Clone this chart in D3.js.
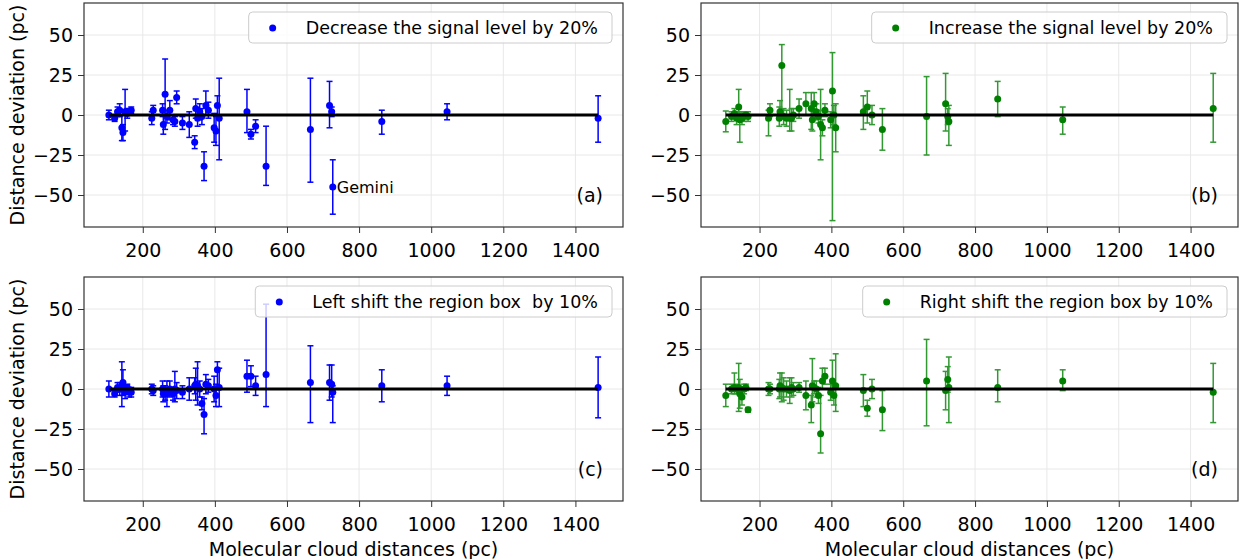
<!DOCTYPE html>
<html>
<head>
<meta charset="utf-8">
<script src="https://cdn.jsdelivr.net/npm/d3@7"></script>
<style>
body { margin: 0; background: #fff; }
text { font-family: "DejaVu Sans", sans-serif; }
</style>
</head>
<body>
<svg id="chart" width="1241" height="559"></svg>
<script>
// molecular cloud distances (pc), shared by all four panels
var distances = [106,122,130,136,142,145,151,157,162,168,225,229,255,257,262,267,275,284,289,294,
	310,329,344,347,352,358,364,370,375,382,398,403,407,412,489,500,513,542,665,718,
	724,727,863,1044,1463];

// [deviation, error below, error above]
var signalDown = [[0,3,3],[-2,2,2],[2,3,3],[3,4,4],[-8,8,8],[-11,5,5],[2,12,14],[1,3,3],[2,2,2],[3,2,2],
	[-2,4,4],[3,3,3],[3,4,4],[-6,6,6],[13,22,22],[-1,4,4],[3,6,6],[-3,3,3],[-4,3,3],[11,4,4],
	[-5,4,4],[-6,8,8],[-17,4,4],[4,6,6],[-2,5,5],[2,5,5],[-1,5,5],[-32,9,9],[6,6,9],[3,5,5],
	[-8,9,9],[-10,9,9],[6,6,6],[-2,26,25],[2,13,14],[-12,3,3],[-7,4,4],[-32,12,25],[-9,33,32],[6,14,15],
	[2,3,3],[-45,17,17],[-4,8,7],[2,5,5],[-2,15,14]];

var signalUp = [[-4,6.5,6.5],[-1,3,3],[1,3,3],[-2,4,4],[5,4,11],[-3,14,5],[-2,4,4],[-1,3,3],[0,2,2],[-1,3,3],
	[-2,11,5],[3,4,4],[-2,5,7],[2,4,7],[31,32,13],[-1,5,5],[-2,5,5],[-2,8,18],[-2,8,6],[0,4,4],
	[4,6,6],[7,7,7],[4,13,10],[-3,7,7],[7,9,7],[2,5,5],[-1,4,4],[-6,22,22],[-8,5,5],[3,4,4],
	[-3,5,5],[15,81,24],[0,6,6],[-8,15,15],[2,11,10],[5,10,10],[0,6,6],[-9,13,13],[-1,24,25],[7,17,19],
	[-1,5,5],[-4,15,10],[10,11,11],[-3,9,8],[4,21,22]];

var leftShift = [[0,5,5],[-3,2,2],[1,3,3],[0,4,4],[2,13,15],[4,8,8],[-2,4,4],[1,2,2],[-2,3,3],[-2,3,3],
	[0,3,3],[-1,3,3],[0,5,5],[-3,5,5],[-3,4,5],[-3,8,8],[0,5,5],[-3,4,4],[0,8,11],[-1,5,5],
	[-2,4,4],[0,7,7],[2,5,5],[3,10,10],[2,12,15],[0,5,5],[-9,4,4],[-16,12,10],[3,6,6],[2,4,4],
	[0,8,8],[-4,7,7],[12,12,5],[1,12,12],[8,10,10],[8,6.5,6.5],[2,6,6],[9,20,44],[4,25,23],[4,11,11],
	[3,8,12],[-2,19,4],[2,10,10],[2,6,6],[1,19,19]];

var rightShift = [[-4,7,7],[0,3,3],[1,4,9],[0,3,3],[1,15,15],[-3,9,9],[-5,5,5],[0,3,3],[1,2,2],[-13,1.5,1.5],
	[0,4,4],[0,3,3],[0,6,6],[2,7,8],[1,9,9],[0,7,7],[0,5,5],[-1,8,8],[1,6,6],[0,4,4],
	[1,3,3],[-4,9,9],[-10,11,6],[2,10,17],[1,4,4],[0,5,5],[-4,5,5],[-28,12,24],[5,5,8],[8,5,5],
	[-2,5,5],[5,8,13],[-4,6,6],[2,16,20],[-1,10,10],[-12,5,5],[0,6,6],[-13,13,12],[5,28,26],[-1,12,12],
	[6,8,8],[1,22,19],[1,9,11],[5,6,7],[-2,19,18]];

var xTicks = [200,400,600,800,1000,1200,1400];
var yTicks = [-50,-25,0,25,50];
var geminiDistance = 727;

var panels = [
	{series: signalDown, color: "#0000ff", legend: "Decrease the signal level by 20%", tag: "(a)", col: 0, row: 0},
	{series: signalUp, color: "#008000", legend: "Increase the signal level by 20%", tag: "(b)", col: 1, row: 0},
	{series: leftShift, color: "#0000ff", legend: "Left shift the region box  by 10%", tag: "(c)", col: 0, row: 1},
	{series: rightShift, color: "#008000", legend: "Right shift the region box by 10%", tag: "(d)", col: 1, row: 1}
];

var cols = [[84, 623], [701, 1238]];
var rows = [[3, 227], [277, 501]];

var svg = d3.select("#chart");

panels.forEach(function(p) {
	var x0 = cols[p.col][0], x1 = cols[p.col][1];
	var y0 = rows[p.row][0], y1 = rows[p.row][1];

	var x = d3.scaleLinear().domain([37, 1532]).range([x0, x1]);
	var y = d3.scaleLinear().domain([-70, 70]).range([y1, y0]);

	var g = svg.append("g");

	// grid
	g.selectAll(".gx").data(xTicks).enter().append("line")
		.attr("x1", d => x(d)).attr("x2", d => x(d))
		.attr("y1", y0).attr("y2", y1)
		.attr("stroke", "#e8e8e8").attr("stroke-width", 1);
	g.selectAll(".gy").data(yTicks).enter().append("line")
		.attr("x1", x0).attr("x2", x1)
		.attr("y1", d => y(d)).attr("y2", d => y(d))
		.attr("stroke", "#e8e8e8").attr("stroke-width", 1);

	// axes
	var xa = g.append("g").attr("transform", "translate(0," + y1 + ")")
		.call(d3.axisBottom(x).tickValues(xTicks).tickFormat(d3.format("d")).tickSize(6).tickPadding(11));
	var ya = g.append("g").attr("transform", "translate(" + x0 + ",0)")
		.call(d3.axisLeft(y).tickValues(yTicks).tickSize(6).tickPadding(5));
	[xa, ya].forEach(function(a) {
		a.select(".domain").remove();
		a.selectAll("line").attr("stroke", "#333");
		a.selectAll("text").attr("font-size", 19).attr("fill", "#000")
			.style("font-family", "'DejaVu Sans', sans-serif");
	});

	var pts = distances.map(function(d, i) {
		return {x: d, v: p.series[i][0], lo: p.series[i][1], hi: p.series[i][2]};
	});

	// error bars
	var eb = g.append("g").attr("stroke", p.color).attr("stroke-width", 1.5)
		.attr("opacity", p.color === "#008000" ? 0.8 : 1);
	pts.forEach(function(d) {
		var cx = x(d.x), top = y(d.v + d.hi), bot = y(d.v - d.lo);
		eb.append("line").attr("x1", cx).attr("x2", cx).attr("y1", top).attr("y2", bot);
		eb.append("line").attr("x1", cx - 3).attr("x2", cx + 3).attr("y1", top).attr("y2", top);
		eb.append("line").attr("x1", cx - 3).attr("x2", cx + 3).attr("y1", bot).attr("y2", bot);
	});

	g.selectAll(".pt").data(pts).enter().append("circle")
		.attr("cx", d => x(d.x)).attr("cy", d => y(d.v)).attr("r", 3.5)
		.attr("fill", p.color);

	// zero line
	g.append("line")
		.attr("x1", x(d3.min(distances))).attr("x2", x(d3.max(distances)))
		.attr("y1", y(0)).attr("y2", y(0))
		.attr("stroke", "#000").attr("stroke-width", 3);

	if (p.tag === "(a)") {
		var gi = distances.indexOf(geminiDistance);
		g.append("text").attr("x", x(geminiDistance) + 4).attr("y", y(p.series[gi][0]) + 6)
			.attr("font-size", 16).text("Gemini");
	}

	// spines
	g.append("rect").attr("x", x0).attr("y", y0).attr("width", x1 - x0).attr("height", y1 - y0)
		.attr("fill", "none").attr("stroke", "#333").attr("stroke-width", 1.2);

	// legend
	var lg = g.append("g");
	var box = lg.append("rect");
	var lt = lg.append("text").attr("x", x1 - 25).attr("y", y0 + 31)
		.attr("text-anchor", "end").attr("font-size", 17.5)
		.attr("xml:space", "preserve").style("white-space", "pre")
		.text(p.legend);
	var tw = lt.node().getComputedTextLength();
	var ts = x1 - 25 - tw;
	box.attr("x", ts - 57).attr("y", y0 + 9).attr("width", (x1 - 11) - (ts - 57)).attr("height", 31)
		.attr("rx", 4).attr("fill", "#fff").attr("fill-opacity", 0.8)
		.attr("stroke", "#cccccc").attr("stroke-width", 1);
	lg.append("circle").attr("cx", ts - 33).attr("cy", y0 + 25).attr("r", 3.5).attr("fill", p.color);

	// panel tag
	g.append("text").attr("x", x1 - 20).attr("y", y1 - 25).attr("text-anchor", "end")
		.attr("font-size", 19).text(p.tag);

	if (p.row === 1) {
		g.append("text").attr("x", (x0 + x1) / 2).attr("y", 556).attr("text-anchor", "middle")
			.attr("font-size", 19).text("Molecular cloud distances (pc)");
	}
	if (p.col === 0) {
		g.append("text").attr("transform", "translate(24," + ((y0 + y1) / 2) + ") rotate(-90)")
			.attr("text-anchor", "middle").attr("font-size", 19).text("Distance deviation (pc)");
	}
});
</script>
</body>
</html>
